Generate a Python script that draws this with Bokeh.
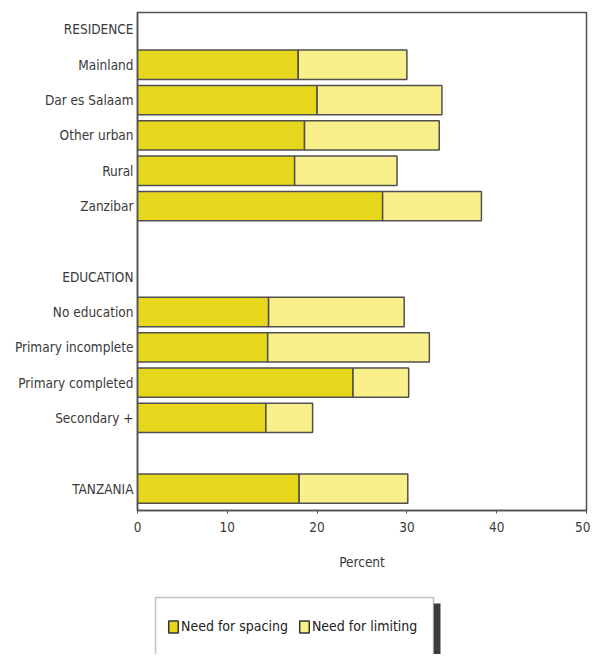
import numpy as np
from bokeh.plotting import figure
from bokeh.layouts import column
from bokeh.models import Range1d, FixedTicker, Legend, LegendItem, BoxAnnotation
from bokeh.embed import file_html
from bokeh.resources import INLINE

# ---- data ----
categories = ["Mainland", "Dar es Salaam", "Other urban", "Rural", "Zanzibar",
              "No education", "Primary incomplete", "Primary completed", "Secondary +",
              "TANZANIA"]
rows = [1, 2, 3, 4, 5, 8, 9, 10, 11, 13]
headers = ["RESIDENCE", "EDUCATION"]
header_rows = [0, 7]
spacing = [17.9, 20.0, 18.6, 17.5, 27.3, 14.6, 14.5, 24.0, 14.3, 18.0]
limiting = [12.1, 13.9, 15.0, 11.4, 11.0, 15.1, 18.0, 6.2, 5.2, 12.1]
x_ticks = [0, 10, 20, 30, 40, 50]
series = ["Need for spacing", "Need for limiting"]

FONT = "DejaVu Sans Condensed"
FS = "13.5px"
TXT = "#3a3a3a"
C_SPACE = "#e6d61c"
C_LIMIT = "#f9f08c"
EDGE = "#505050"

sp = np.array(spacing)
tot = sp + np.array(limiting)

p = figure(width=590, height=588, output_backend="svg", toolbar_location=None,
           x_range=Range1d(0, 50), y_range=Range1d(13.62, -0.48),
           min_border_left=137, min_border_top=12, min_border_right=4,
           min_border_bottom=78)

p.hbar(y=rows, left=0, right=sp, height=0.83, fill_color=C_SPACE,
       line_color=EDGE, line_width=1.5)
p.hbar(y=rows, left=sp, right=tot, height=0.83, fill_color=C_LIMIT,
       line_color=EDGE, line_width=1.5)

p.xgrid.visible = False
p.ygrid.visible = False
p.outline_line_color = EDGE
p.outline_line_width = 1.5

# y axis
labels = {}
for r, c in zip(rows, categories):
    labels[r] = c
for r, h in zip(header_rows, headers):
    labels[r] = h
p.yaxis.ticker = FixedTicker(ticks=sorted(labels.keys()))
p.yaxis.major_label_overrides = {k: v for k, v in labels.items()}
p.yaxis.major_tick_line_color = None
p.yaxis.major_tick_out = 0
p.yaxis.major_tick_in = 0
p.yaxis.minor_tick_line_color = None
p.yaxis.major_label_standoff = 4
p.yaxis.axis_line_color = EDGE
p.yaxis.axis_line_width = 1.5
p.yaxis.major_label_text_font = FONT
p.yaxis.major_label_text_font_size = FS
p.yaxis.major_label_text_color = TXT

# x axis
p.xaxis.ticker = FixedTicker(ticks=x_ticks)
p.xaxis.minor_tick_line_color = None
p.xaxis.major_tick_out = 3
p.xaxis.major_tick_in = 0
p.xaxis.major_tick_line_color = EDGE
p.xaxis.axis_line_color = EDGE
p.xaxis.axis_line_width = 1.5
p.xaxis.major_label_standoff = 8
p.xaxis.major_label_text_font = FONT
p.xaxis.major_label_text_font_size = FS
p.xaxis.major_label_text_color = TXT
p.xaxis.axis_label = "Percent"
p.xaxis.axis_label_standoff = 19
p.xaxis.axis_label_text_font = FONT
p.xaxis.axis_label_text_font_size = FS
p.xaxis.axis_label_text_font_style = "normal"
p.xaxis.axis_label_text_color = TXT

# ---- legend strip (frame aligned with the chart frame above) ----
p2 = figure(width=590, height=66, output_backend="svg", toolbar_location=None,
            x_range=Range1d(0, 50), y_range=Range1d(0, 14),
            min_border_left=137, min_border_right=4, min_border_top=0,
            min_border_bottom=0, outline_line_color=None)
p2.axis.visible = False
p2.xgrid.visible = False
p2.ygrid.visible = False

shadow = BoxAnnotation(left=296, right=303, top=51, bottom=0,
                       left_units="screen", right_units="screen",
                       top_units="screen", bottom_units="screen",
                       fill_color="#3c3c3c", fill_alpha=1.0, line_color=None)
box = BoxAnnotation(left=18, right=296, top=57, bottom=-2,
                    left_units="screen", right_units="screen",
                    top_units="screen", bottom_units="screen",
                    fill_color="white", fill_alpha=1.0,
                    line_color="#333333", line_width=1.5)
p2.add_layout(shadow)
p2.add_layout(box)

# legend swatch renderers (hidden; they only supply the legend glyphs)
d1 = p2.hbar(y=rows, left=0, right=sp, height=0.83, fill_color=C_SPACE,
             line_color="#333333", line_width=1.5, visible=False)
d2 = p2.hbar(y=rows, left=sp, right=tot, height=0.83, fill_color=C_LIMIT,
             line_color="#333333", line_width=1.5, visible=False)

legend = Legend(items=[LegendItem(label=series[0], renderers=[d1]),
                       LegendItem(label=series[1], renderers=[d2])],
                orientation="horizontal", location=(30, 20),
                label_text_font=FONT, label_text_font_size="14px",
                label_text_color="#222222", glyph_width=12, glyph_height=15,
                label_standoff=2, spacing=10, padding=0, margin=0,
                border_line_color=None, background_fill_alpha=0)
p2.add_layout(legend, "center")

layout = column(p, p2, spacing=0)
open("out.html", "w").write(file_html(layout, INLINE))
